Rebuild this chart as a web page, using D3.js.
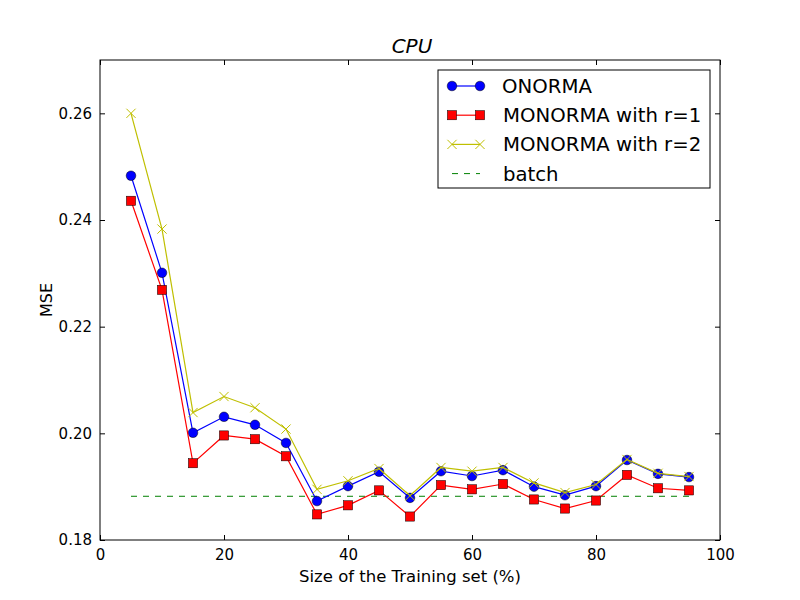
<!DOCTYPE html>
<html><head><meta charset="utf-8">
<script src="https://cdn.jsdelivr.net/npm/d3@7"></script>
<style>body{margin:0;background:#fff}svg{display:block}text{font-family:"DejaVu Sans",sans-serif}</style>
</head><body><svg id="c" width="800" height="600"></svg>
<script>
const sizes = [5,10,15,20,25,30,35,40,45,50,55,60,65,70,75,80,85,90,95];
const onorma = [0.2483,0.2301,0.2001,0.2031,0.2016,0.1982,0.1873,0.1901,0.1928,0.1879,0.1929,0.1920,0.1931,0.1900,0.1884,0.1901,0.1950,0.1924,0.1918];
const monorma1 = [0.2436,0.2269,0.1944,0.1996,0.1989,0.1957,0.1848,0.1865,0.1893,0.1844,0.1903,0.1895,0.1905,0.1876,0.1859,0.1874,0.1922,0.1897,0.1893];
const monorma2 = [0.2600,0.2383,0.2039,0.2069,0.2048,0.2008,0.1895,0.1911,0.1934,0.1883,0.1936,0.1929,0.1936,0.1907,0.1889,0.1904,0.1951,0.1925,0.1919];
const batch = 0.1882;
const xTicks = [0,20,40,60,80,100];
const yTicks = [0.18,0.20,0.22,0.24,0.26];
const labels = ["ONORMA","MONORMA with r=1","MONORMA with r=2","batch"];

const svg = d3.select("#c");
const L=100,R=720,T=60,B=540;
const x = d3.scaleLinear().domain([0,100]).range([L,R]);
const y = d3.scaleLinear().domain([0.18,0.27]).range([B,T]);

// batch line
svg.append("line").attr("x1",x(5)).attr("x2",x(95)).attr("y1",y(batch)).attr("y2",y(batch))
  .attr("stroke","#008000").attr("stroke-width",1).attr("stroke-dasharray","6,6");

const line = d3.line().x((d,i)=>x(sizes[i])).y(d=>y(d));
function series(vals,color,marker){
  svg.append("path").attr("d",line(vals)).attr("fill","none").attr("stroke",color).attr("stroke-width",1.2);
  const g = svg.append("g");
  vals.forEach((v,i)=>drawMarker(g,x(sizes[i]),y(v),marker,color));
}
function drawMarker(g,cx,cy,marker,color){
  if(marker==="o") g.append("circle").attr("cx",cx).attr("cy",cy).attr("r",4.8).attr("fill",color).attr("stroke","#000").attr("stroke-width",0.5);
  else if(marker==="s") g.append("rect").attr("x",cx-4.6).attr("y",cy-4.6).attr("width",9.2).attr("height",9.2).attr("fill",color).attr("stroke","#000").attr("stroke-width",0.5);
  else { const s=4.6; g.append("path").attr("d",`M${cx-s},${cy-s}L${cx+s},${cy+s}M${cx-s},${cy+s}L${cx+s},${cy-s}`).attr("stroke",color).attr("stroke-width",1); }
}
series(onorma,"#0000ff","o");
series(monorma1,"#ff0000","s");
series(monorma2,"#bfbf00","x");

// frame
svg.append("rect").attr("x",L).attr("y",T).attr("width",R-L).attr("height",B-T).attr("fill","none").attr("stroke","#000").attr("stroke-width",1);

// axes with inward ticks
const xa = svg.append("g").attr("transform",`translate(0,${B})`).call(d3.axisBottom(x).tickValues(xTicks).tickSize(-5).tickPadding(9).tickFormat(d3.format("d")));
const xt = svg.append("g").attr("transform",`translate(0,${T})`).call(d3.axisTop(x).tickValues(xTicks).tickSize(-5).tickFormat(""));
const ya = svg.append("g").attr("transform",`translate(${L},0)`).call(d3.axisLeft(y).tickValues(yTicks).tickSize(-5).tickPadding(8).tickFormat(d3.format(".2f")));
const yr = svg.append("g").attr("transform",`translate(${R},0)`).call(d3.axisRight(y).tickValues(yTicks).tickSize(-5).tickFormat(""));
[xa,xt,ya,yr].forEach(a=>{a.select(".domain").remove();a.selectAll("line").attr("stroke","#000");a.selectAll("text").attr("font-family","DejaVu Sans").attr("font-size",15).attr("fill","#000");});

svg.append("text").attr("x",410).attr("y",582).attr("text-anchor","middle").attr("font-size",16.5).text("Size of the Training set (%)");
svg.append("text").attr("transform","translate(52,300) rotate(-90)").attr("text-anchor","middle").attr("font-size",16).text("MSE");
svg.append("text").attr("x",412).attr("y",53).attr("text-anchor","middle").attr("font-size",20).attr("font-style","italic").text("CPU");

// legend
const lg = svg.append("g");
lg.append("rect").attr("x",438).attr("y",70).attr("width",272).attr("height",118).attr("fill","#fff").attr("stroke","#000").attr("stroke-width",1);
const cols=["#0000ff","#ff0000","#bfbf00","#008000"], mk=["o","s","x",null];
labels.forEach((t,i)=>{
  const cy=86+i*29.2;
  if(mk[i]){
    lg.append("line").attr("x1",452).attr("x2",480).attr("y1",cy).attr("y2",cy).attr("stroke",cols[i]).attr("stroke-width",1.2);
    drawMarker(lg,452,cy,mk[i],cols[i]); drawMarker(lg,480,cy,mk[i],cols[i]);
  } else {
    lg.append("line").attr("x1",452).attr("x2",480).attr("y1",cy).attr("y2",cy).attr("stroke",cols[i]).attr("stroke-dasharray","6,6").attr("stroke-width",1);
  }
  lg.append("text").attr("x",i===0?502:503).attr("y",cy+7).attr("font-size",19.7).text(t);
});
</script></body></html>
